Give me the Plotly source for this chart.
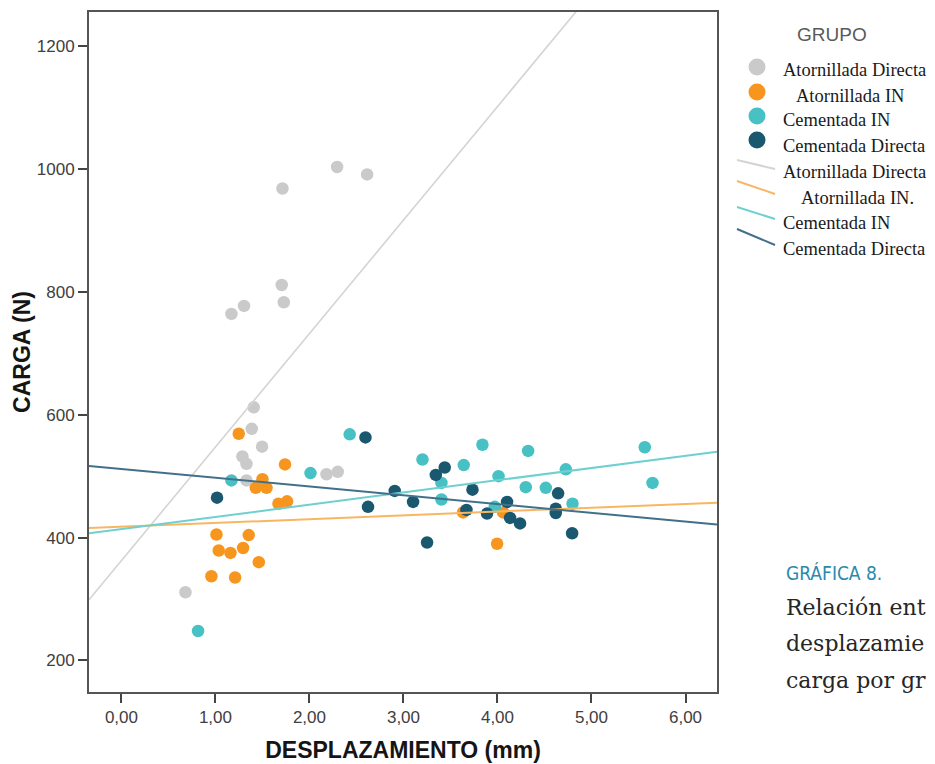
import plotly.graph_objects as go

# ---------------- data ----------------
groups = ["Atornillada Directa", "Atornillada IN", "Cementada IN", "Cementada Directa"]
fit_labels = ["Atornillada Directa", "Atornillada IN.", "Cementada IN", "Cementada Directa"]

ad_x = [2.294, 2.613, 1.713, 1.705, 1.727, 1.170, 1.304, 1.407, 1.386, 1.496, 1.287, 1.330, 1.330, 2.181, 2.301, 0.681]
ad_y = [1003, 991, 968, 811, 783, 764, 777, 612, 577, 548, 532, 520, 493, 503, 507, 311]

ai_x = [1.248, 1.740, 1.500, 1.429, 1.543, 1.670, 1.762, 1.011, 1.354, 1.035, 1.160, 1.294, 1.461, 0.957, 1.209, 3.634, 4.060, 3.996]
ai_y = [569, 519, 495, 481, 481, 455, 459, 405, 404, 379, 375, 383, 360, 337, 335, 441, 441, 390]

ci_x = [2.428, 1.170, 2.011, 0.815, 3.202, 3.840, 4.326, 3.641, 3.404, 4.011, 4.301, 4.514, 3.404, 3.971, 4.727, 4.798, 5.567, 5.649]
ci_y = [568, 493, 505, 248, 527, 551, 541, 518, 489, 500, 482, 481, 462, 450, 511, 455, 547, 489]

cd_x = [2.596, 2.623, 1.017, 2.907, 3.102, 3.344, 3.439, 3.734, 3.670, 3.889, 4.102, 4.134, 4.240, 3.251, 4.645, 4.620, 4.620, 4.794]
cd_y = [563, 450, 465, 476, 458, 502, 514, 478, 445, 439, 458, 432, 423, 392, 472, 447, 440, 407]

fit_intercept = [362.6, 417.6, 413.7, 511.7]
fit_slope = [184.7, 6.2, 19.9, -14.3]

x_range = [-0.345, 6.335]
y_range = [148.7, 1255.3]
x_ticks = [0, 1, 2, 3, 4, 5, 6]
y_ticks = [200, 400, 600, 800, 1000, 1200]

caption_head = "GRÁFICA 8."
caption_lines = ["Relación ent", "desplazamie", "carga por gr"]

# ---------------- style ----------------
marker_colors = ["#cacaca", "#f7961f", "#47c1c3", "#1a5870"]
line_colors = ["#d4d4d4", "#f8b663", "#6fd0d1", "#41718a"]
line_widths = [1.6, 2, 2, 2]

W, H = 935, 764
L, R, T, B = 89, 218, 12, 72
PW, PH = W - L - R, H - T - B


def px(x):
    return (x - L) / PW


def py(y):
    return (H - B - y) / PH


fig = go.Figure()

series_x = [ad_x, ai_x, ci_x, cd_x]
series_y = [ad_y, ai_y, ci_y, cd_y]
for name, xs, ys, col in zip(groups, series_x, series_y, marker_colors):
    fig.add_trace(go.Scatter(
        x=xs, y=ys, mode="markers", name=name,
        marker=dict(size=12.5, color=col, line=dict(width=0)),
        showlegend=False,
    ))

for name, b0, b1, col, lw in zip(fit_labels, fit_intercept, fit_slope, line_colors, line_widths):
    xs = list(x_range)
    ys = [b0 + b1 * v for v in xs]
    fig.add_trace(go.Scatter(
        x=xs, y=ys, mode="lines", name=name,
        line=dict(color=col, width=lw),
        showlegend=False,
    ))

# ---------------- manual legend ----------------
shapes = []
annotations = []

annotations.append(dict(
    text="GRUPO", xref="paper", yref="paper", x=px(832), y=py(34),
    xanchor="center", yanchor="middle", showarrow=False,
    font=dict(family="Liberation Sans, Arial, sans-serif", size=19, color="#5a5a5a"),
))

legend_font = dict(family="Liberation Serif, Times New Roman, serif", size=18.5, color="#1a1a1a")

circle_y = [67, 92, 116, 140]
text_x_m = [781, 794, 781, 781]
text_y_m = [70, 96, 120, 146]
for cy, col in zip(circle_y, marker_colors):
    r = 8.5
    shapes.append(dict(type="circle", xref="paper", yref="paper",
                       x0=px(757 - r), x1=px(757 + r), y0=py(cy + r), y1=py(cy - r),
                       fillcolor=col, line=dict(width=0)))
for name, tx, ty in zip(groups, text_x_m, text_y_m):
    annotations.append(dict(
        text=name, xref="paper", yref="paper", x=px(tx), y=py(ty),
        xanchor="left", yanchor="middle", showarrow=False, font=legend_font,
    ))

seg = [(160, 169), (181, 194), (207, 219), (229, 245)]
text_x_l = [781, 799, 781, 781]
text_y_l = [172, 198, 223, 249]
for (y0, y1), col in zip(seg, line_colors):
    shapes.append(dict(type="line", xref="paper", yref="paper",
                       x0=px(737), x1=px(775), y0=py(y0), y1=py(y1),
                       line=dict(color=col, width=2)))
for name, tx, ty in zip(fit_labels, text_x_l, text_y_l):
    annotations.append(dict(
        text=name, xref="paper", yref="paper", x=px(tx), y=py(ty),
        xanchor="left", yanchor="middle", showarrow=False, font=legend_font,
    ))

# ---------------- caption (as visible in the reference crop) ----------------
annotations.append(dict(
    text=caption_head, xref="paper", yref="paper", x=px(784), y=py(573),
    xanchor="left", yanchor="middle", showarrow=False,
    font=dict(family="Liberation Sans Narrow, DejaVu Sans Condensed, sans-serif", size=19, color="#2a89ad"),
))
for line, cy in zip(caption_lines, [607, 643, 680]):
    annotations.append(dict(
        text=line, xref="paper", yref="paper", x=px(784), y=py(cy),
        xanchor="left", yanchor="middle", showarrow=False,
        font=dict(family="DejaVu Serif, serif", size=22, color="#262626"),
    ))

tick_font = dict(family="Liberation Sans, Arial, sans-serif", size=17, color="#404040")
title_font = dict(family="Liberation Sans, Arial, sans-serif", size=23, color="#151515")

fig.update_layout(
    width=W, height=H,
    margin=dict(l=L, r=R, t=T, b=B, pad=0),
    paper_bgcolor="white", plot_bgcolor="white",
    separators=",.",
    shapes=shapes, annotations=annotations,
    xaxis=dict(
        range=x_range, tickvals=x_ticks, tickformat=".2f",
        showgrid=False, zeroline=False,
        showline=True, mirror=True, linecolor="#555555", linewidth=2,
        ticks="outside", ticklen=9, tickwidth=2, tickcolor="#444444",
        tickfont=tick_font,
        title=dict(text="<b>DESPLAZAMIENTO (mm)</b>", font=title_font, standoff=15),
        automargin=False,
    ),
    yaxis=dict(
        range=y_range, tickvals=y_ticks, tickformat="d",
        showgrid=False, zeroline=False,
        showline=True, mirror=True, linecolor="#555555", linewidth=2,
        ticks="outside", ticklen=9, tickwidth=2, tickcolor="#444444",
        tickfont=tick_font,
        title=dict(text="<b>CARGA (N)</b>", font=title_font, standoff=0),
        automargin=False,
    ),
)

fig.write_html("out.html")
